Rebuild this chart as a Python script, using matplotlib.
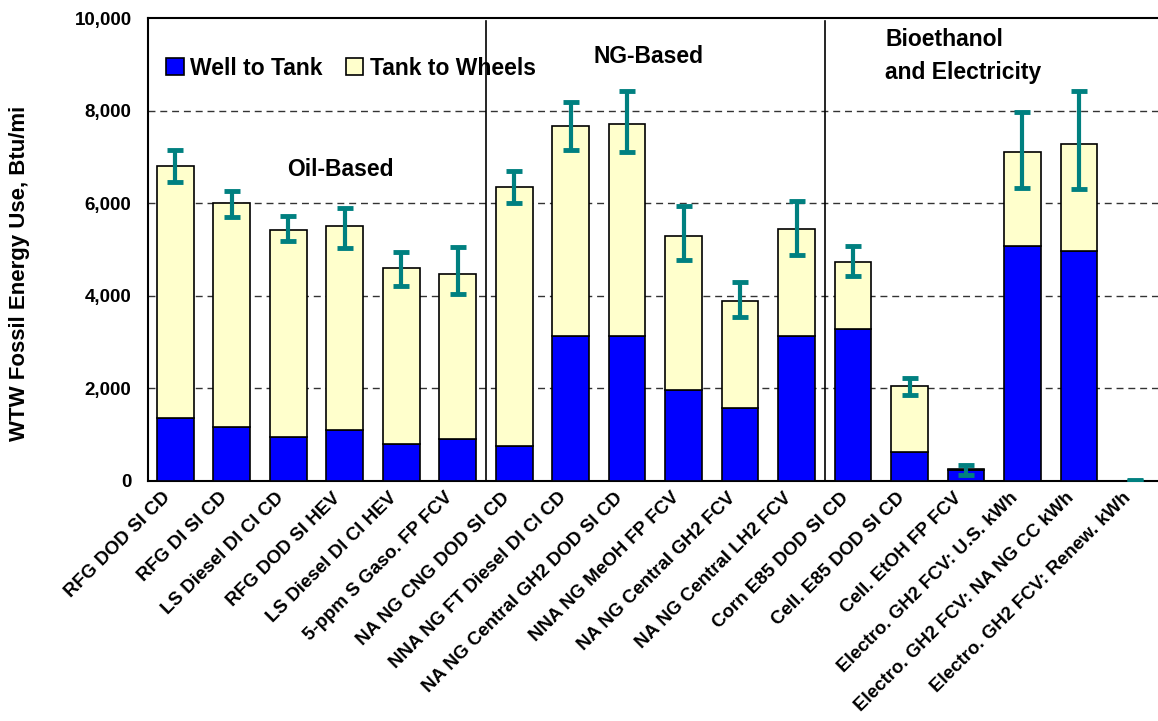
import numpy as np
import matplotlib.pyplot as plt
from matplotlib.ticker import FuncFormatter
import matplotlib.transforms as mtrans

plt.rcParams['font.family'] = ['Liberation Sans', 'DejaVu Sans']
plt.rcParams['font.weight'] = 'bold'
plt.rcParams['axes.labelweight'] = 'bold'

pathways = ['RFG DOD SI CD', 'RFG DI SI CD', 'LS Diesel DI CI CD', 'RFG DOD SI HEV',
            'LS Diesel DI CI HEV', '5-ppm S Gaso. FP FCV', 'NA NG CNG DOD SI CD',
            'NNA NG FT Diesel DI CI CD', 'NA NG Central GH2 DOD SI CD', 'NNA NG MeOH FP FCV',
            'NA NG Central GH2 FCV', 'NA NG Central LH2 FCV', 'Corn E85 DOD SI CD',
            'Cell. E85 DOD SI CD', 'Cell. EtOH FP FCV', 'Electro. GH2 FCV: U.S. kWh',
            'Electro. GH2 FCV: NA NG CC kWh', 'Electro. GH2 FCV: Renew. kWh']
well_to_tank = [1350, 1170, 950, 1100, 800, 900, 750, 3130, 3130, 1960,
                1580, 3130, 3280, 620, 240, 5080, 4970, 0]
total = [6800, 6000, 5430, 5500, 4600, 4480, 6350, 7670, 7710, 5300,
         3880, 5440, 4720, 2050, 250, 7100, 7270, 0]
err_low = [6450, 5700, 5180, 5030, 4200, 4030, 6010, 7140, 7100, 4770,
           3550, 4880, 4430, 1860, 120, 6330, 6300, 0]
err_high = [7150, 6270, 5730, 5900, 4950, 5050, 6690, 8190, 8420, 5930,
            4300, 6050, 5070, 2230, 350, 7960, 8430, 20]
tank_to_wheels = [t - w for t, w in zip(total, well_to_tank)]

x = np.arange(len(pathways))
fig = plt.figure(figsize=(11.58, 7.21), dpi=100)
ax = fig.add_axes([0.128, 0.333, 0.872, 0.642])

ax.bar(x, well_to_tank, 0.65, color='#0000FF', edgecolor='black', linewidth=1.2,
       label='Well to Tank', zorder=3)
ax.bar(x, tank_to_wheels, 0.65, bottom=well_to_tank, color='#FFFFCC', edgecolor='black',
       linewidth=1.2, label='Tank to Wheels', zorder=3)

yerr = [np.array(total) - np.array(err_low), np.array(err_high) - np.array(total)]
ax.errorbar(x, total, yerr=yerr, fmt='none', ecolor='#008080', elinewidth=3,
            capsize=6, capthick=3.5, zorder=4)

ax.set_xlim(-0.48, 17.4)
ax.set_ylim(0, 10000)
ax.set_yticks(range(0, 10001, 2000))
ax.yaxis.set_major_formatter(FuncFormatter(lambda v, p: f'{int(v):,}'))
for y in range(2000, 10000, 2000):
    ax.axhline(y, color='#333333', linestyle=(0, (5, 3.5)), linewidth=1, zorder=1)
for xd in [5.5, 11.5]:
    ax.axvline(xd, ymax=0.993, color='black', linewidth=1.2, zorder=2)

ax.spines['right'].set_visible(False)
for s in ['left', 'bottom', 'top']:
    ax.spines[s].set_linewidth(1.5)
ax.tick_params(axis='y', labelsize=13.5, length=0, pad=12)
ax.tick_params(axis='x', length=0, pad=2)
ax.set_xticks(x)
ax.set_xticklabels(pathways, rotation=45, ha='right', va='top', rotation_mode='anchor',
                   fontsize=13.5)
shift = mtrans.ScaledTranslation(-9.5 / 72, -4 / 72, fig.dpi_scale_trans)
for lbl in ax.get_xticklabels():
    lbl.set_transform(lbl.get_transform() + shift)
ax.set_ylabel('WTW Fossil Energy Use, Btu/mi', fontsize=16)
ax.yaxis.set_label_coords(-0.117, 0.449)

ax.text(2.92, 6720, 'Oil-Based', fontsize=16.5, ha='center', va='center')
ax.text(8.37, 9160, 'NG-Based', fontsize=16.5, ha='center', va='center')
ax.text(12.57, 9180, 'Bioethanol\nand Electricity', fontsize=16.5, ha='left', va='center',
        linespacing=1.55)

ax.legend(loc='center left', bbox_to_anchor=(0.018, 0.892), ncol=2, frameon=False,
          fontsize=16.5, handlelength=0.75, handleheight=0.75, handletextpad=0.3,
          columnspacing=1.0, borderaxespad=0, borderpad=0)

fig.savefig('out.png', dpi=100)
